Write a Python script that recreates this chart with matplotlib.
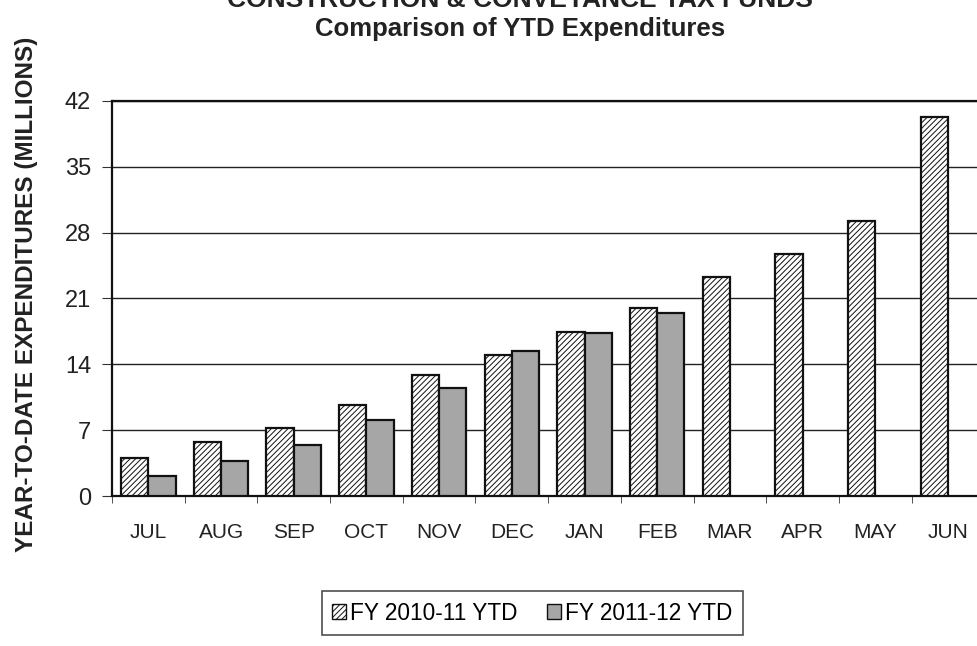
import numpy as np
import matplotlib.pyplot as plt
from matplotlib.patches import Patch

plt.rcParams['font.family'] = ['Liberation Sans', 'DejaVu Sans']
plt.rcParams['hatch.linewidth'] = 0.7

# year-to-date expenditures, millions
months = ['JUL', 'AUG', 'SEP', 'OCT', 'NOV', 'DEC',
          'JAN', 'FEB', 'MAR', 'APR', 'MAY', 'JUN']
fy_2010_11 = [4.0, 5.7, 7.2, 9.7, 12.9, 15.0, 17.4, 20.0, 23.3, 25.7, 29.2, 40.3]
fy_2011_12 = [2.1, 3.7, 5.4, 8.1, 11.5, 15.4, 17.3, 19.5]
y_ticks = [0, 7, 14, 21, 28, 35, 42]

ink = '#222222'

fig = plt.figure(figsize=(9.78, 6.46), dpi=100)
ax = fig.add_axes([0.1145, 0.232, 0.892, 0.612])

x = np.arange(len(months))
w = 0.375
ax.bar(x - w / 2, fy_2010_11, width=w, facecolor='white', edgecolor='#111111',
       hatch='//////', linewidth=1.6, zorder=3)
ax.bar(x[:len(fy_2011_12)] + w / 2, fy_2011_12, width=w, facecolor='#a6a6a6',
       edgecolor='#111111', linewidth=1.6, zorder=3)

ax.set_xlim(-0.5, len(months) - 0.5)
ax.set_ylim(0, 42)
ax.set_yticks(y_ticks)
ax.set_yticklabels([str(v) for v in y_ticks], fontsize=17, color=ink)
ax.yaxis.grid(True, color=ink, linewidth=1.0, zorder=0)

# month labels centred, ticks on the category boundaries
ax.set_xticks(x)
ax.set_xticklabels(months, fontsize=15, color=ink)
ax.tick_params(axis='x', length=0, pad=19)
ax.set_xticks(np.arange(len(months) + 1) - 0.5, minor=True)
ax.tick_params(axis='x', which='minor', length=5, direction='out', color='#333333')
ax.tick_params(axis='y', length=7, direction='out', color='#333333', pad=8)

for side in ['left', 'bottom', 'top']:
    ax.spines[side].set_linewidth(1.6)
    ax.spines[side].set_color('#111111')
ax.spines['right'].set_visible(False)

fig.text(27 / 978, 1 - 294 / 646, 'YEAR-TO-DATE EXPENDITURES (MILLIONS)', rotation=90,
         ha='center', va='center', fontsize=17.5, fontweight='bold', color=ink)

fig.text(0.5315, 0.989, 'CONSTRUCTION & CONVEYANCE TAX FUNDS', ha='center', va='baseline',
         fontsize=19, fontweight='bold', color=ink)
fig.text(0.5315, 0.944, 'Comparison of YTD Expenditures', ha='center', va='baseline',
         fontsize=18.5, fontweight='bold', color=ink)

handles = [Patch(facecolor='white', edgecolor='#111111', hatch='//////', linewidth=1.0),
           Patch(facecolor='#a6a6a6', edgecolor='#111111', linewidth=1.0)]
leg = fig.legend(handles, ['FY 2010-11 YTD', 'FY 2011-12 YTD'], loc='center',
                 bbox_to_anchor=(0.5445, 0.051), ncol=2, fontsize=16.3, frameon=True,
                 fancybox=False, edgecolor=ink, handlelength=0.6, handleheight=0.6,
                 handletextpad=0.2, columnspacing=1.3, borderpad=0.45)
leg.get_frame().set_linewidth(1.2)

fig.savefig('out.png', dpi=100, facecolor='white')
